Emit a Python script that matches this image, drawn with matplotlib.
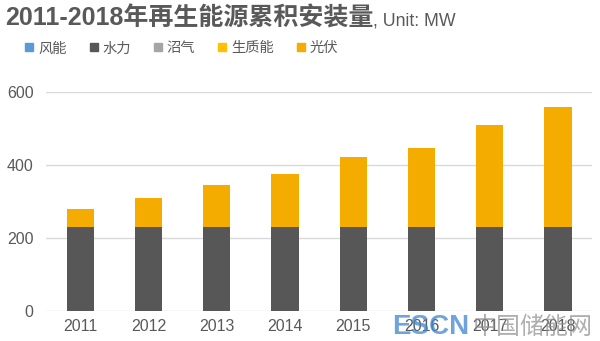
import matplotlib
matplotlib.use('Agg')
import matplotlib.pyplot as plt
from matplotlib.lines import Line2D
import numpy as np

plt.rcParams['font.family'] = ['Liberation Sans', 'Noto Sans CJK SC', 'DejaVu Sans']

years = ['2011', '2012', '2013', '2014', '2015', '2016', '2017', '2018']
series = ['风能', '水力', '沼气', '生质能', '光伏']
wind = [0, 0, 0, 0, 0, 0, 0, 0]
hydro = [230, 230, 230, 230, 231, 231, 231, 231]
biogas = [0, 0, 0, 0, 0, 0, 0, 0]
biomass = [0, 0, 0, 0, 0, 0, 0, 0]
solar = [50, 80, 115, 145, 191, 216, 279, 328]
colors = ['#5B9BD5', '#575757', '#A5A5A5', '#FFC000', '#F4AC00']

data = [wind, hydro, biogas, biomass, solar]

fig = plt.figure(figsize=(6, 3.41), dpi=100)
ax = fig.add_axes([0.077, 0.088, 0.91, 0.642])

x = np.arange(len(years))
bottom = np.zeros(len(years))
for name, vals, c in zip(series, data, colors):
    ax.bar(x, vals, 0.4, bottom=bottom, color=c, label=name, zorder=3)
    bottom += np.array(vals)

ax.set_xlim(-0.5, len(years) - 0.5)
ax.set_ylim(0, 600)
ax.set_yticks([0, 200, 400, 600])
ax.set_xticks(x)
ax.set_xticklabels(years)
ax.grid(axis='y', color='#D9D9D9', linewidth=1, zorder=0)
for s in ax.spines.values():
    s.set_visible(False)
ax.tick_params(length=0, labelsize=11.5, colors='#595959')
ax.tick_params(axis='x', pad=6)
ax.tick_params(axis='y', pad=9)

# title, bold part + regular part
t1 = fig.text(0.008, 0.925, '2011-2018年再生能源累积安装量', fontsize=18,
              fontweight='bold', color='#595959', va='baseline')
fig.canvas.draw()
bb = t1.get_window_extent()
fig.text(bb.x1 / fig.bbox.width, 0.925, ', Unit: MW', fontsize=12.8,
         color='#595959', va='baseline')

# legend
hs = [Line2D([], [], marker='s', linestyle='', color=c, markersize=6) for c in colors]
fig.legend(hs, series, loc='center left', bbox_to_anchor=(0.042, 0.858), ncol=5,
           frameon=False, fontsize=10.3, handlelength=0.6, handletextpad=0.3,
           columnspacing=1.6, labelcolor='#595959', borderaxespad=0, borderpad=0)

# watermark
fig.text(0.653, 0.02, 'ESCN', fontsize=20, fontweight='bold', color='#3F86CF', alpha=0.75)
fig.text(0.787, 0.02, '中国储能网', fontsize=17.3, color='#8C8C8C', alpha=0.7)

fig.savefig('out.png', dpi=100)
